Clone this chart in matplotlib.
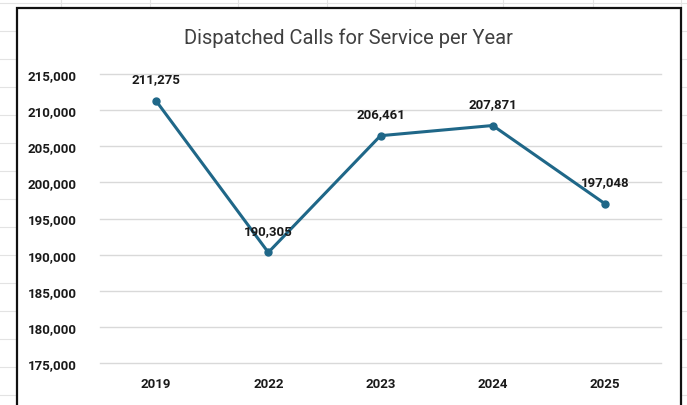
import matplotlib
matplotlib.use("Agg")
from matplotlib import pyplot as plt
from matplotlib.lines import Line2D
from matplotlib.patches import Rectangle
from matplotlib.ticker import FuncFormatter

years = ["2019", "2022", "2023", "2024", "2025"]
calls = [211275, 190305, 206461, 207871, 197048]
y_ticks = [175000, 180000, 185000, 190000, 195000, 200000, 205000, 210000, 215000]

W, H = 687, 406
LINE_COLOR = "#1f6788"
TEXT_COLOR = "#1a1a1a"

plt.rcParams['font.family'] = ['Roboto', 'DejaVu Sans']

fig = plt.figure(figsize=(W / 100, H / 100), dpi=100)

# spreadsheet grid peeking out behind the chart
for x in [61, 150, 238, 327, 415, 503, 593, 681]:
    fig.add_artist(Line2D([x / W, x / W], [1, 0], color="#e3e3e3", lw=0.8, zorder=0))
for y in range(4, H, 28):
    fig.add_artist(Line2D([0, 1], [1 - y / H, 1 - y / H], color="#e3e3e3", lw=0.8, zorder=0))

# chart area with dark border
fig.add_artist(Rectangle((17 / W, -0.05), (681 - 17) / W, 1.05 - 9 / H,
                         facecolor="white", edgecolor="#111111", lw=1.6,
                         transform=fig.transFigure, zorder=0.5))

ax = fig.add_axes([100 / W, 1 - 364 / H, (661 - 100) / W, (364 - 75) / H], zorder=2)
ax.patch.set_alpha(0)

x = list(range(len(years)))
ax.plot(x, calls, color=LINE_COLOR, lw=2.2, marker="o", markersize=5, zorder=3)
for xi, v in zip(x, calls):
    ax.annotate(f"{v:,}", (xi, v), xytext=(0, 16), textcoords="offset points",
                ha="center", va="center", fontsize=9.5, fontweight="bold",
                color=TEXT_COLOR, zorder=4)

ax.set_xlim(-0.5, len(years) - 0.5)
ax.set_ylim(175000, 215000)
ax.set_yticks(y_ticks)
ax.yaxis.set_major_formatter(FuncFormatter(lambda v, p: f"{int(v):,}"))
ax.set_xticks(x)
ax.set_xticklabels(years)
ax.grid(axis="y", color="#d9d9d9", lw=1)
for gl in ax.get_ygridlines():
    gl.set_clip_on(False)
ax.set_axisbelow(True)
for s in ax.spines.values():
    s.set_visible(False)
ax.tick_params(length=0, labelsize=9.5, labelcolor=TEXT_COLOR)
ax.tick_params(axis="y", pad=17)
ax.tick_params(axis="x", pad=10)
for lbl in ax.get_xticklabels() + ax.get_yticklabels():
    lbl.set_fontweight("bold")

fig.text(348 / W, 1 - 38 / H, "Dispatched Calls for Service per Year",
         ha="center", va="center", fontsize=14.5, color="#404040")

fig.savefig("out.png", dpi=100)
